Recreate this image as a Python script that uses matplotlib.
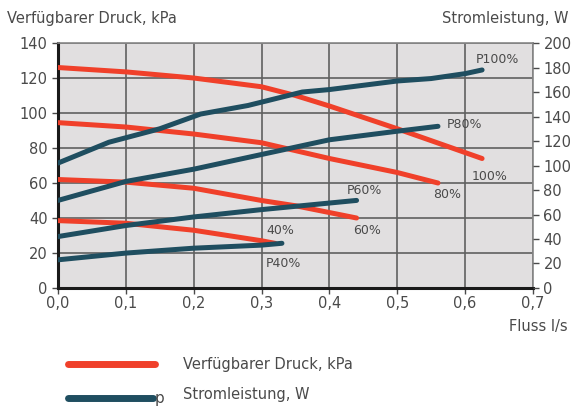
import matplotlib
matplotlib.use("Agg")
from matplotlib import pyplot as plt
from matplotlib.lines import Line2D

# pressure curves (left axis, kPa)
x_d100 = [0.0, 0.1, 0.2, 0.3, 0.35, 0.4, 0.5, 0.625]
d100 = [126, 123.5, 120, 115, 110, 104, 91, 74]
x_d80 = [0.0, 0.1, 0.2, 0.3, 0.4, 0.5, 0.56]
d80 = [94.5, 92, 88, 83, 74, 66, 60]
x_d60 = [0.0, 0.1, 0.2, 0.3, 0.35, 0.44]
d60 = [62, 60.5, 57, 50, 47, 40]
x_d40 = [0.0, 0.1, 0.2, 0.3, 0.32]
d40 = [38.5, 37, 33, 27, 25.5]

# power curves (right axis, W)
x_p100 = [0.0, 0.075, 0.15, 0.21, 0.28, 0.36, 0.4, 0.5, 0.55, 0.6, 0.625]
p100 = [102, 119, 130, 142, 149, 160, 162, 169, 171, 175, 178]
x_p80 = [0.0, 0.1, 0.2, 0.3, 0.4, 0.5, 0.56]
p80 = [71.5, 87, 97, 109, 121, 128, 132]
x_p60 = [0.0, 0.1, 0.2, 0.3, 0.44]
p60 = [42, 51, 58, 64, 71.5]
x_p40 = [0.0, 0.1, 0.2, 0.3, 0.33]
p40 = [23, 28.5, 32.5, 35, 36.5]

x_ticks = [0.0, 0.1, 0.2, 0.3, 0.4, 0.5, 0.6, 0.7]
x_ticklabels = ["0,0", "0,1", "0,2", "0,3", "0,4", "0,5", "0,6", "0,7"]

red = "#f0402a"
blue = "#1f4e60"
txt = "#4a4a4a"

fig = plt.figure(figsize=(5.75, 4.07), dpi=100)
ax = fig.add_axes([0.1009, 0.2924, 0.826, 0.6019])
ax2 = ax.twinx()

ax.set_facecolor("#e1dfe0")
ax.set_xlim(0, 0.7)
ax.set_ylim(0, 140)
ax2.set_ylim(0, 200)
ax.set_xticks(x_ticks)
ax.set_xticklabels(x_ticklabels)
ax.set_yticks(range(0, 141, 20))
ax2.set_yticks(range(0, 201, 20))
ax.grid(True, color="#606060", linewidth=1.2)
ax.set_axisbelow(True)

for s in ["top", "right"]:
    ax.spines[s].set_color("#888888")
    ax.spines[s].set_linewidth(1.2)
for s in ["left", "bottom"]:
    ax.spines[s].set_color("#1a1a1a")
    ax.spines[s].set_linewidth(2.2)
for s in ax2.spines.values():
    s.set_visible(False)

ax.tick_params(axis="both", labelsize=10.5, colors=txt, length=4, width=1)
ax.tick_params(axis="x", pad=2)
ax2.tick_params(axis="y", labelsize=10.5, colors=txt, length=4, width=1)

lw = 3.6
for xs, ys in [(x_d100, d100), (x_d80, d80), (x_d60, d60), (x_d40, d40)]:
    ax.plot(xs, ys, color=red, linewidth=lw, solid_capstyle="round", zorder=3)
for xs, ys in [(x_p100, p100), (x_p80, p80), (x_p60, p60), (x_p40, p40)]:
    ax2.plot(xs, ys, color=blue, linewidth=lw, solid_capstyle="round", zorder=3)

# curve labels
lbl = dict(fontsize=9, color=txt, ha="center", va="center")
ax.text(0.648, 130.5, "P100%", **lbl)
ax.text(0.636, 63.5, "100%", **lbl)
ax.text(0.599, 93.5, "P80%", **lbl)
ax.text(0.574, 53.5, "80%", **lbl)
ax.text(0.452, 55.5, "P60%", **lbl)
ax.text(0.455, 33, "60%", **lbl)
ax.text(0.328, 33, "40%", **lbl)
ax.text(0.332, 14, "P40%", **lbl)

# axis titles
fig.text(7 / 575, 1 - 18 / 407, "Verfügbarer Druck, kPa", fontsize=10.5,
         color=txt, ha="left", va="center")
fig.text(568 / 575, 1 - 18 / 407, "Stromleistung, W", fontsize=10.5,
         color=txt, ha="right", va="center")
fig.text(568 / 575, 1 - 326 / 407, "Fluss l/s", fontsize=10.5,
         color=txt, ha="right", va="center")

# legend drawn by hand below the chart
fig.add_artist(Line2D([68 / 575, 155 / 575], [1 - 364 / 407] * 2,
                      color=red, linewidth=5, solid_capstyle="round"))
fig.add_artist(Line2D([68 / 575, 153 / 575], [1 - 398 / 407] * 2,
                      color=blue, linewidth=5, solid_capstyle="round"))
fig.text(155 / 575, 1 - 399 / 407, "p", fontsize=11, color=txt,
         ha="left", va="center")
fig.text(183 / 575, 1 - 365 / 407, "Verfügbarer Druck, kPa", fontsize=10.5,
         color=txt, ha="left", va="center")
fig.text(183 / 575, 1 - 395 / 407, "Stromleistung, W", fontsize=10.5,
         color=txt, ha="left", va="center")

fig.savefig("out.png", dpi=100)
